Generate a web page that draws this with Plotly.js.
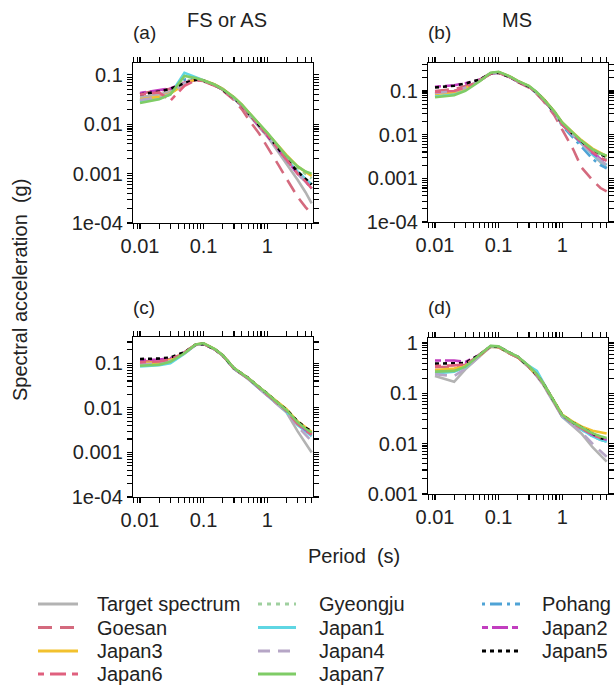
<!DOCTYPE html>
<html>
<head>
<meta charset="utf-8">
<script src="https://cdn.plot.ly/plotly-3.0.1.min.js"></script>
<style>
html,body{margin:0;padding:0;background:#fff;}
#chart{width:614px;height:689px;}
</style>
</head>
<body>
<div id="chart"></div>
<script>
// ---------------- DATA ----------------
const periods = [0.01,0.02,0.03,0.05,0.075,0.1,0.15,0.2,0.3,0.4,0.5,0.75,1,1.5,2,3,4,5];

const seriesNames = ['Target spectrum','Gyeongju','Pohang','Goesan','Japan1','Japan2',
                     'Japan3','Japan4','Japan5','Japan6','Japan7'];

const panelTitles = ['FS or AS','MS','',''];
const panelLetters = ['(a)','(b)','(c)','(d)'];

const xTickVals = [0.01,0.1,1];
const xTickText = ['0.01','0.1','1'];
const yTickValsAB = [1e-4,1e-3,1e-2,1e-1];
const yTickTextAB = ['1e-04','0.001','0.01','0.1'];
const yTickValsD = [1e-3,1e-2,1e-1,1];
const yTickTextD = ['0.001','0.01','0.1','1'];

// (a) FS or AS  (order = seriesNames)
const saA = [
  [0.035,0.040,0.046,0.066,0.080,0.076,0.062,0.050,0.033,0.023,0.016,0.0088,0.0057,0.0027,0.0016,0.00075,0.00042,0.00025],
  [0.030,0.034,0.040,0.075,0.085,0.076,0.062,0.051,0.034,0.024,0.017,0.0098,0.0065,0.0034,0.0022,0.0013,0.0010,0.0008],
  [0.030,0.034,0.041,0.080,0.086,0.077,0.062,0.051,0.034,0.024,0.017,0.0094,0.0061,0.0030,0.0019,0.0010,0.0007,0.0005],
  [0.042,0.047,0.052,0.070,0.078,0.074,0.060,0.048,0.031,0.020,0.013,0.0064,0.0036,0.0015,0.0008,0.00034,0.00021,0.00015],
  [0.029,0.033,0.040,0.110,0.090,0.078,0.063,0.052,0.034,0.024,0.017,0.0096,0.0063,0.0032,0.0020,0.0011,0.0008,0.0006],
  [0.043,0.048,0.053,0.068,0.080,0.076,0.062,0.050,0.034,0.024,0.017,0.0093,0.0061,0.0031,0.0019,0.0010,0.0007,0.0005],
  [0.032,0.036,0.042,0.064,0.082,0.078,0.064,0.052,0.035,0.025,0.018,0.0100,0.0068,0.0036,0.0024,0.0014,0.0011,0.0009],
  [0.031,0.035,0.041,0.068,0.081,0.077,0.062,0.050,0.034,0.023,0.017,0.0093,0.0060,0.0030,0.0019,0.0010,0.0007,0.0005],
  [0.040,0.046,0.052,0.068,0.080,0.076,0.062,0.050,0.034,0.024,0.017,0.0094,0.0062,0.0032,0.0020,0.0011,0.0008,0.0006],
  [0.040,0.044,0.030,0.060,0.078,0.075,0.061,0.050,0.034,0.024,0.017,0.0095,0.0062,0.0031,0.0019,0.0010,0.0007,0.0005],
  [0.027,0.032,0.040,0.095,0.086,0.077,0.063,0.051,0.035,0.025,0.018,0.0102,0.0068,0.0036,0.0023,0.0014,0.0011,0.0010]
];

// (b) MS
const saB = [
  [0.090,0.100,0.120,0.170,0.250,0.265,0.210,0.165,0.125,0.090,0.065,0.032,0.017,0.0095,0.0063,0.0036,0.0024,0.0017],
  [0.080,0.090,0.110,0.175,0.260,0.270,0.212,0.168,0.128,0.091,0.066,0.033,0.018,0.0100,0.0068,0.0042,0.0032,0.0027],
  [0.085,0.095,0.115,0.170,0.252,0.265,0.208,0.163,0.124,0.088,0.063,0.031,0.016,0.0085,0.0052,0.0028,0.0020,0.0017],
  [0.100,0.110,0.130,0.180,0.250,0.260,0.205,0.160,0.120,0.085,0.060,0.028,0.013,0.0045,0.0018,0.0009,0.0006,0.0005],
  [0.075,0.085,0.105,0.170,0.255,0.268,0.210,0.165,0.126,0.090,0.065,0.032,0.017,0.0095,0.0062,0.0035,0.0025,0.0020],
  [0.125,0.135,0.150,0.180,0.250,0.262,0.208,0.164,0.125,0.090,0.065,0.032,0.017,0.0096,0.0064,0.0038,0.0028,0.0023],
  [0.085,0.095,0.115,0.170,0.255,0.270,0.215,0.170,0.130,0.092,0.068,0.034,0.019,0.0110,0.0075,0.0048,0.0038,0.0032],
  [0.090,0.098,0.118,0.172,0.252,0.266,0.210,0.165,0.125,0.090,0.065,0.032,0.017,0.0094,0.0062,0.0036,0.0026,0.0020],
  [0.120,0.132,0.148,0.182,0.250,0.263,0.209,0.165,0.126,0.091,0.066,0.033,0.018,0.0100,0.0070,0.0044,0.0035,0.0031],
  [0.095,0.100,0.120,0.170,0.250,0.265,0.210,0.165,0.125,0.090,0.065,0.032,0.017,0.0098,0.0066,0.0040,0.0030,0.0025],
  [0.072,0.080,0.100,0.165,0.260,0.275,0.215,0.170,0.130,0.093,0.067,0.034,0.019,0.0110,0.0072,0.0046,0.0037,0.0033]
];

// (c)
const saC = [
  [0.095,0.100,0.115,0.170,0.260,0.275,0.205,0.150,0.075,0.057,0.045,0.027,0.019,0.0110,0.0080,0.0030,0.0016,0.0010],
  [0.090,0.095,0.112,0.170,0.262,0.277,0.206,0.151,0.077,0.058,0.046,0.028,0.020,0.0120,0.0087,0.0045,0.0032,0.0026],
  [0.092,0.096,0.110,0.168,0.260,0.275,0.205,0.150,0.076,0.058,0.046,0.028,0.020,0.0120,0.0085,0.0043,0.0030,0.0024],
  [0.110,0.115,0.125,0.175,0.262,0.272,0.205,0.150,0.076,0.058,0.046,0.028,0.020,0.0120,0.0088,0.0045,0.0032,0.0026],
  [0.085,0.090,0.100,0.165,0.258,0.274,0.205,0.150,0.076,0.057,0.045,0.027,0.019,0.0115,0.0083,0.0041,0.0029,0.0023],
  [0.118,0.122,0.130,0.176,0.260,0.272,0.204,0.150,0.076,0.058,0.046,0.028,0.020,0.0120,0.0087,0.0045,0.0032,0.0026],
  [0.100,0.105,0.118,0.172,0.265,0.280,0.208,0.152,0.078,0.059,0.047,0.029,0.021,0.0130,0.0095,0.0050,0.0036,0.0029],
  [0.095,0.098,0.112,0.168,0.258,0.273,0.204,0.150,0.076,0.057,0.045,0.027,0.019,0.0110,0.0080,0.0038,0.0025,0.0018],
  [0.125,0.128,0.135,0.178,0.262,0.273,0.205,0.151,0.077,0.059,0.047,0.029,0.021,0.0125,0.0092,0.0050,0.0036,0.0030],
  [0.105,0.110,0.122,0.174,0.260,0.274,0.204,0.150,0.076,0.058,0.046,0.028,0.020,0.0120,0.0086,0.0044,0.0031,0.0025],
  [0.088,0.093,0.108,0.168,0.265,0.282,0.208,0.152,0.078,0.059,0.047,0.029,0.021,0.0125,0.0090,0.0048,0.0034,0.0028]
];

// (d)
const saD = [
  [0.22,0.17,0.30,0.55,0.85,0.82,0.62,0.52,0.33,0.22,0.15,0.065,0.034,0.022,0.016,0.0085,0.0058,0.0044],
  [0.27,0.29,0.34,0.56,0.87,0.85,0.63,0.53,0.34,0.23,0.16,0.068,0.036,0.025,0.020,0.015,0.013,0.012],
  [0.28,0.30,0.34,0.56,0.86,0.84,0.62,0.52,0.34,0.23,0.16,0.067,0.035,0.024,0.019,0.014,0.012,0.011],
  [0.33,0.34,0.37,0.58,0.86,0.84,0.63,0.53,0.34,0.23,0.16,0.068,0.036,0.025,0.020,0.015,0.013,0.012],
  [0.25,0.27,0.33,0.55,0.86,0.84,0.62,0.52,0.35,0.28,0.17,0.066,0.035,0.024,0.019,0.014,0.012,0.011],
  [0.45,0.45,0.42,0.58,0.86,0.84,0.63,0.53,0.34,0.23,0.16,0.068,0.036,0.025,0.020,0.015,0.013,0.012],
  [0.29,0.31,0.35,0.56,0.85,0.83,0.62,0.52,0.33,0.23,0.16,0.070,0.038,0.027,0.022,0.018,0.017,0.016],
  [0.24,0.22,0.31,0.55,0.85,0.83,0.62,0.52,0.33,0.22,0.15,0.066,0.035,0.023,0.017,0.010,0.0072,0.0055],
  [0.39,0.40,0.40,0.58,0.86,0.84,0.63,0.53,0.34,0.23,0.16,0.069,0.037,0.026,0.021,0.016,0.013,0.012],
  [0.35,0.36,0.38,0.57,0.86,0.83,0.62,0.52,0.34,0.23,0.16,0.068,0.036,0.025,0.020,0.015,0.013,0.012],
  [0.27,0.28,0.34,0.57,0.88,0.86,0.64,0.54,0.35,0.24,0.16,0.069,0.037,0.026,0.021,0.016,0.014,0.013]
];

// ---------------- STYLE ----------------
const seriesColors = ['#b3b3b3','#9fd09f','#4fa3d6','#d46a7e','#5fd6e3','#c23dbf',
                      '#f2c12e','#b6a6c6','#000000','#e0607e','#7fcc66'];
const seriesDash = ['solid','4px,5px','3px,5px,12px,5px','14px,8px','solid','6px,4px,16px,4px',
                    'solid','12px,8px','4px,4px','6px,6px,16px,6px','solid'];

const W = 614, H = 689;
const FONT = 'Liberation Sans, Arial, Helvetica, sans-serif';
const TXT = '#222';
const px = x => x / W;
const py = y => 1 - y / H;

// panel pixel boxes [left, right, top, bottom]
const boxes = [
  [133, 313, 63, 223],
  [428, 608, 63, 222],
  [133, 313, 337, 497],
  [428, 608, 338, 494]
];
const yRanges = [[-4, -0.76], [-4, -0.36], [-4, -0.41], [-3, 0.1]];
const xRange = [-2.11, 0.72];
const panelData = [saA, saB, saC, saD];

// log-axis ticks: labelled decades plus unlabelled intermediate (minor) ticks
function logTicks(majorVals, majorText, lo, hi) {
  const vals = majorVals.slice(), text = majorText.slice();
  for (let e = lo; e <= hi; e++) {
    for (let m = 2; m <= 9; m++) { vals.push(m * Math.pow(10, e)); text.push(''); }
  }
  return {tickvals: vals, ticktext: text};
}

const traces = [];
const layout = {
  width: W, height: H,
  margin: {l: 0, r: 0, t: 0, b: 0},
  paper_bgcolor: '#fff', plot_bgcolor: '#fff',
  showlegend: false,
  font: {family: FONT, size: 20, color: TXT},
  annotations: [], shapes: []
};

const axCommon = {
  type: 'log', showgrid: false, zeroline: false,
  showline: true, linecolor: '#000', linewidth: 1.2, mirror: 'allticks',
  ticks: 'outside', tickcolor: '#000', ticklen: 5, tickwidth: 1.1,
  tickmode: 'array', tickfont: {family: FONT, size: 20, color: TXT}
};

panelData.forEach((data, p) => {
  const sfx = p === 0 ? '' : String(p + 1);
  const b = boxes[p];
  const isD = p === 3;
  const xt = logTicks(xTickVals, xTickText, -3, 1);
  const yt = isD ? logTicks(yTickValsD, yTickTextD, -4, 1) : logTicks(yTickValsAB, yTickTextAB, -5, 0);
  layout['xaxis' + sfx] = Object.assign({}, axCommon, {
    range: xRange, domain: [px(b[0]), px(b[1])], anchor: 'y' + sfx,
    tickvals: xt.tickvals, ticktext: xt.ticktext
  });
  layout['yaxis' + sfx] = Object.assign({}, axCommon, {
    range: yRanges[p], domain: [py(b[3]), py(b[2])], anchor: 'x' + sfx,
    tickvals: yt.tickvals, ticktext: yt.ticktext
  });
  data.forEach((vals, i) => {
    traces.push({
      type: 'scatter', mode: 'lines',
      x: periods, y: vals, name: seriesNames[i],
      xaxis: 'x' + sfx, yaxis: 'y' + sfx,
      line: {color: seriesColors[i], width: 2.6, dash: seriesDash[i]},
      showlegend: false, hoverinfo: 'skip'
    });
  });
  layout.annotations.push({
    xref: 'paper', yref: 'paper', x: px(b[0] + 11), y: py(p < 2 ? 32 : 307),
    text: panelLetters[p], showarrow: false, xanchor: 'center', yanchor: 'middle',
    font: {family: FONT, size: 19, color: TXT}
  });
  if (panelTitles[p]) {
    layout.annotations.push({
      xref: 'paper', yref: 'paper', x: px(p === 0 ? 227 : 517), y: py(20),
      text: panelTitles[p], showarrow: false, xanchor: 'center', yanchor: 'middle',
      font: {family: FONT, size: 20, color: TXT}
    });
  }
});

// axis titles
layout.annotations.push({
  xref: 'paper', yref: 'paper', x: px(20), y: py(290),
  text: 'Spectral acceleration  (g)', textangle: -90, showarrow: false,
  xanchor: 'center', yanchor: 'middle', font: {family: FONT, size: 20, color: TXT}
});
layout.annotations.push({
  xref: 'paper', yref: 'paper', x: px(354), y: py(556),
  text: 'Period  (s)', showarrow: false,
  xanchor: 'center', yanchor: 'middle', font: {family: FONT, size: 20, color: TXT}
});

// legend (3 columns, row-wise)
const legLineX = [[38, 78], [258, 296], [482, 520]];
const legTextX = [95, 317, 540];
const legRowY = [604, 627.5, 651, 674];
seriesNames.forEach((name, i) => {
  const row = Math.floor(i / 3), col = i % 3;
  const y = legRowY[row];
  layout.shapes.push({
    type: 'line', xref: 'paper', yref: 'paper',
    x0: px(legLineX[col][0]), x1: px(legLineX[col][1]), y0: py(y), y1: py(y),
    line: {color: seriesColors[i], width: 3, dash: seriesDash[i]}
  });
  layout.annotations.push({
    xref: 'paper', yref: 'paper', x: px(legTextX[col]), y: py(y),
    text: name, showarrow: false, xanchor: 'left', yanchor: 'middle',
    font: {family: FONT, size: 20, color: TXT}
  });
});

Plotly.newPlot('chart', traces, layout, {staticPlot: true, displayModeBar: false});
</script>
</body>
</html>
